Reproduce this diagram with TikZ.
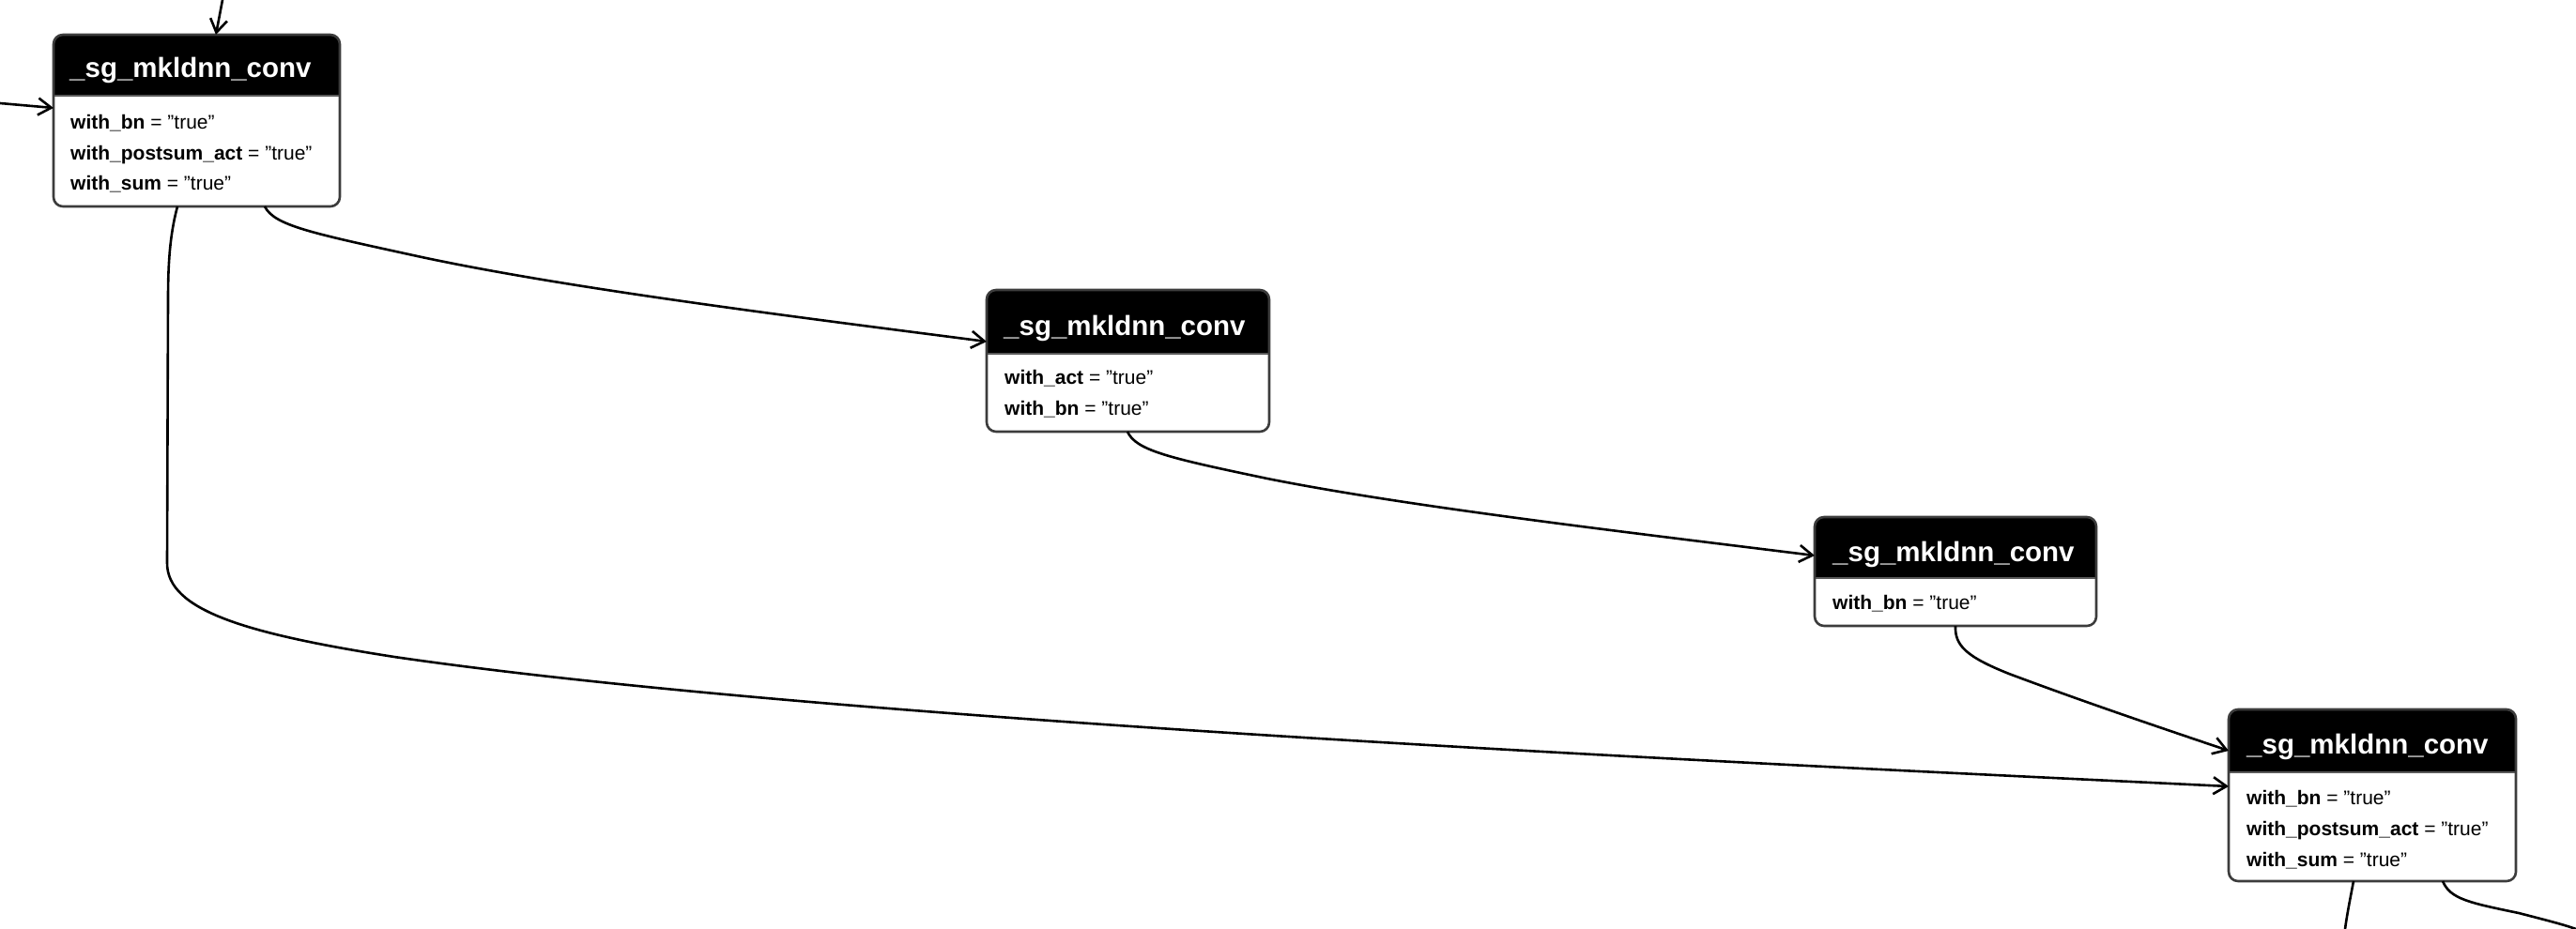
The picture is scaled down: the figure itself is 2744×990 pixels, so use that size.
\documentclass[tikz,border=0pt]{standalone}
\usepackage{fontspec}
\setmainfont{Liberation Sans}
\usetikzlibrary{arrows.meta,calc,fit}
\definecolor{bordergray}{HTML}{3C3C3C}
\definecolor{sepgray}{HTML}{5A5A5A}
\tikzset{
  boxbg/.style={fill=white, inner sep=0pt, outer sep=0pt, rectangle},
  boxline/.style={draw=bordergray, line width=2.6pt, rounded corners=10pt},
  sepline/.style={draw=sepgray, line width=2pt},
  ttl/.style={text=white, font=\fontsize{29.5}{34}\selectfont\bfseries, inner sep=0pt, anchor=base west},
  attr/.style={text=black, font=\fontsize{21}{25}\selectfont, inner sep=0pt, anchor=base west},
  edge/.style={draw=black, line width=2.6pt, -{Straight Barb[length=14pt,width=18pt]}},
  plainedge/.style={draw=black, line width=2.6pt},
}
\begin{document}
\begin{tikzpicture}[x=1pt,y=-1pt]
\useasboundingbox (0,0) rectangle (2744,990);

\coordinate (in1) at (237,0);
\coordinate (in2) at (0,110);
\coordinate (out1) at (2498,990);
\coordinate (out2) at (2744,990);

% ---------- node boxes ----------
\node[boxbg, fit={(57,37) (362,220)}] (n1) {};
\node[boxbg, fit={(1051,309) (1352,460)}] (n2) {};
\node[boxbg, fit={(1933,551) (2233,667)}] (n3) {};
\node[boxbg, fit={(2374,756) (2680,939)}] (n4) {};

% headers
\begin{scope}
  \clip[rounded corners=10pt] (n1.north west) rectangle (n1.south east);
  \fill[black] (n1.north west) rectangle ($(n1.north east)+(0,65)$);
\end{scope}
\begin{scope}
  \clip[rounded corners=10pt] (n2.north west) rectangle (n2.south east);
  \fill[black] (n2.north west) rectangle ($(n2.north east)+(0,68)$);
\end{scope}
\begin{scope}
  \clip[rounded corners=10pt] (n3.north west) rectangle (n3.south east);
  \fill[black] (n3.north west) rectangle ($(n3.north east)+(0,65)$);
\end{scope}
\begin{scope}
  \clip[rounded corners=10pt] (n4.north west) rectangle (n4.south east);
  \fill[black] (n4.north west) rectangle ($(n4.north east)+(0,67)$);
\end{scope}
\draw[sepline] ($(n1.north west)+(0,65)$) -- ($(n1.north east)+(0,65)$);
\draw[sepline] ($(n2.north west)+(0,68)$) -- ($(n2.north east)+(0,68)$);
\draw[sepline] ($(n3.north west)+(0,65)$) -- ($(n3.north east)+(0,65)$);
\draw[sepline] ($(n4.north west)+(0,67)$) -- ($(n4.north east)+(0,67)$);
\draw[boxline] (n1.north west) rectangle (n1.south east);
\draw[boxline] (n2.north west) rectangle (n2.south east);
\draw[boxline] (n3.north west) rectangle (n3.south east);
\draw[boxline] (n4.north west) rectangle (n4.south east);

% ---------- texts ----------
\node[ttl] (n1t) at (74,82) {\_sg\_mkldnn\_conv};
\node[attr] (n1a) at (75,137) {\textbf{with\_bn} = "true"};
\node[attr] (n1b) at (75,170) {\textbf{with\_postsum\_act} = "true"};
\node[attr] (n1c) at (75,202) {\textbf{with\_sum} = "true"};

\node[ttl] (n2t) at (1069,357) {\_sg\_mkldnn\_conv};
\node[attr] (n2a) at (1070,409) {\textbf{with\_act} = "true"};
\node[attr] (n2b) at (1070,442) {\textbf{with\_bn} = "true"};

\node[ttl] (n3t) at (1952,598) {\_sg\_mkldnn\_conv};
\node[attr] (n3a) at (1952,649) {\textbf{with\_bn} = "true"};

\node[ttl] (n4t) at (2393,803) {\_sg\_mkldnn\_conv};
\node[attr] (n4a) at (2393,857) {\textbf{with\_bn} = "true"};
\node[attr] (n4b) at (2393,890) {\textbf{with\_postsum\_act} = "true"};
\node[attr] (n4c) at (2393,923) {\textbf{with\_sum} = "true"};

% ---------- connectors ----------
\draw[edge] (in1) -- ($(n1.north)+(20.5,0)$);
\draw[edge] (in2) -- ($(n1.north west)+(0,78)$);

\draw[edge] ($(n1.south west)+(225,0)$)
  .. controls (292,240) and (330,248) .. (440,272)
  .. controls (600,307) and (850,338) .. ($(n2.north west)+(0,55)$);

\draw[edge] ($(n1.south west)+(132,0)$)
  .. controls (181,250) and (179,280) .. (179,320)
  -- (178,600)
  .. controls (178,650) and (260,675) .. (420,700)
  .. controls (900,770) and (1900,815) .. ($(n4.north west)+(0,82)$);

\draw[edge] ($(n2.south west)+(150,0)$)
  .. controls (1210,480) and (1245,488) .. (1350,510)
  .. controls (1500,540) and (1740,568) .. ($(n3.north west)+(0,41)$);

\draw[edge] ($(n3.south west)+(150,0)$)
  .. controls (2082,688) and (2095,700) .. (2140,718)
  .. controls (2220,748) and (2300,775) .. ($(n4.north west)+(0,44)$);

\draw[plainedge] ($(n4.south west)+(133,0)$) .. controls (2503,960) and (2500,975) .. (out1);
\draw[plainedge] ($(n4.south west)+(228,0)$)
  .. controls (2610,958) and (2630,962) .. (2683,973)
  .. controls (2710,980) and (2730,985) .. (out2);
\end{tikzpicture}
\end{document}
